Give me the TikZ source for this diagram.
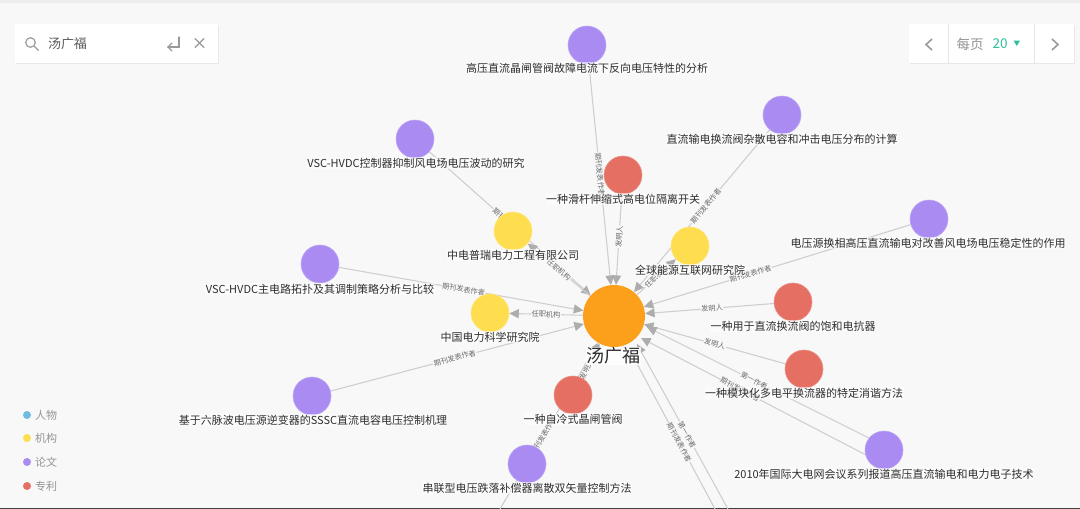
\documentclass[tikz,border=0pt]{standalone}
\usepackage{fontspec}
\setmainfont{Noto Sans CJK SC}
\usetikzlibrary{arrows.meta,calc}
\pgfdeclarelayer{bgl}
\pgfdeclarelayer{edgel}
\pgfsetlayers{bgl,edgel,main}
\definecolor{cbg}{HTML}{F8F8F8}
\definecolor{cpur}{HTML}{A98BF2}
\definecolor{cred}{HTML}{E46F62}
\definecolor{cyel}{HTML}{FEDE4E}
\definecolor{cora}{HTML}{FCA01C}
\definecolor{cblu}{HTML}{6FBCE0}
\definecolor{cedge}{HTML}{CFCFCF}
\definecolor{ctip}{HTML}{ADADAD}
\definecolor{ctxt}{HTML}{2E2E2E}
\definecolor{cgrn}{HTML}{2DBE9B}
\definecolor{cicon}{HTML}{9A9A9A}
\tikzset{
  x=1pt,y=-1pt,
  vert/.style={circle,inner sep=0pt,minimum size=38pt},
  paper/.style={vert,fill=cpur,draw=cpur!75!white,line width=.6pt},
  patent/.style={vert,fill=cred,draw=cred!75!white,line width=.6pt},
  org/.style={vert,fill=cyel,draw=cyel!75!white,line width=.6pt},
  hub/.style={circle,inner sep=0pt,minimum size=62pt,fill=cora},
  lab/.style={font=\fontsize{11}{13}\selectfont,text=ctxt,inner sep=.5pt,fill=white,fill opacity=.55,text opacity=1},
  link/.style={draw=cedge,line width=1.1pt,-{Triangle[length=9.5pt,width=9pt,color=ctip]}},
  elab/.style={font=\fontsize{7.2}{8}\selectfont,text=black!58,fill=cbg,inner sep=.6pt,sloped},
  panel/.style={fill=white},
  pshadow/.style={fill=black!9},
  icon/.style={draw=cicon,line width=1.2pt},
  leg/.style={circle,inner sep=0pt,minimum size=8pt},
  legt/.style={font=\fontsize{11}{13}\selectfont,text=black!42,anchor=west,inner sep=0pt}
}
\begin{document}
\begin{tikzpicture}
\useasboundingbox (0,0) rectangle (1080,509);
\begin{pgfonlayer}{bgl}
  \fill[cbg] (0,0) rectangle (1080,509);
  \fill[black!7] (0,0) rectangle (1080,3);
  \fill[black!75] (0,508) rectangle (1080,509);
  \fill[pshadow] (16,26) rectangle (219,64);
  \fill[pshadow] (910,26) rectangle (1075,64);
\end{pgfonlayer}
% vertices
\node[hub] (c) at (614,316) {};
\node[paper] (p1) at (587,45) {};
\node[paper] (p2) at (782,115) {};
\node[paper] (p3) at (415,139) {};
\node[paper] (p4) at (929,219) {};
\node[paper] (p5) at (320,264) {};
\node[paper] (p6) at (312,396) {};
\node[paper] (p7) at (527,464) {};
\node[paper] (p8) at (884,450) {};
\node[patent] (r1) at (623,175) {};
\node[patent] (r2) at (793,302) {};
\node[patent] (r3) at (804,369) {};
\node[patent] (r4) at (573,395) {};
\node[org] (o1) at (513,231) {};
\node[org] (o2) at (690,246) {};
\node[org] (o3) at (490,313) {};
% free ends
\coordinate (a1) at (500,509);
\coordinate (a2) at (715,509);
\coordinate (a3) at (728,509);
\coordinate (a4) at (637,344);
\coordinate (a5) at (628,347);
\coordinate (a6) at (875,441);
\coordinate (a7) at (866,455);
\coordinate (a8) at (647,327);
\coordinate (a9) at (641,338);
% connectors
\begin{pgfonlayer}{edgel}
  \draw[link] (p1) -- node[elab]{期刊发表作者} (c);
  \draw[link] (r1) -- node[elab,pos=.47]{发明人} (c);
  \draw[link] (p2) -- node[elab,pos=.47]{期刊发表作者} (c);
  \draw[link] (p3) -- node[elab]{期刊发表作者} (c);
  \draw[link] (p4) -- node[elab,pos=.6]{期刊发表作者} (c);
  \draw[link] (r2) -- node[elab,pos=.48]{发明人} (c);
  \draw[link] (r3) -- node[elab]{发明人} (c);
  \draw[link] (p5) -- node[elab,pos=.51]{期刊发表作者} (c);
  \draw[link] (p6) -- node[elab,pos=.49]{期刊发表作者} (c);
  \draw[link] (r4) -- node[elab,pos=.25]{发明人} (c);
  \draw[link] (a1) -- node[elab,pos=.44]{期刊发表作者} (c);
  \draw[link] (a2) -- node[elab,pos=.41]{期刊发表作者} (a5);
  \draw[link] (a3) -- node[elab,pos=.45]{第一作者} (a4);
  \draw[link] (a6) -- node[elab,pos=.53]{第一作者} (a8);
  \draw[link] (a7) -- node[elab,pos=.56]{期刊发表作者} (a9);
  \draw[link] (c) -- node[elab]{任职机构} (o1);
  \draw[link] (c) -- node[elab]{任职机构} (o2);
  \draw[link] (c) -- node[elab]{任职机构} (o3);
\end{pgfonlayer}
% labels
\node[lab] (l1) at (587,68) {高压直流晶闸管阀故障电流下反向电压特性的分析};
\node[lab] (l2) at (782,139) {直流输电换流阀杂散电容和冲击电压分布的计算};
\node[lab] (l3) at (416,163) {VSC-HVDC控制器抑制风电场电压波动的研究};
\node[lab] (l4) at (928,243) {电压源换相高压直流输电对改善风电场电压稳定性的作用};
\node[lab] (l5) at (320,289) {VSC-HVDC主电路拓扑及其调制策略分析与比较};
\node[lab] (l6) at (313,420) {基于六脉波电压源逆变器的SSSC直流电容电压控制机理};
\node[lab] (l7) at (527,488) {串联型电压跌落补偿器离散双矢量控制方法};
\node[lab] (l8) at (884,474) {2010年国际大电网会议系列报道高压直流输电和电力电子技术};
\node[lab] (l9) at (623,199) {一种滑杆伸缩式高电位隔离开关};
\node[lab] (l10) at (793,326) {一种用于直流换流阀的饱和电抗器};
\node[lab] (l11) at (804,393) {一种模块化多电平换流器的特定消谐方法};
\node[lab] (l12) at (573,419) {一种自冷式晶闸管阀};
\node[lab] (l13) at (513,255) {中电普瑞电力工程有限公司};
\node[lab] (l14) at (690,270) {全球能源互联网研究院};
\node[lab] (l15) at (490,337) {中国电力科学研究院};
\node[font=\fontsize{18}{20}\selectfont,text=ctxt,fill=white,fill opacity=.85,text opacity=1,inner sep=.5pt] (l0) at (613,356) {汤广福};
% search panel
\fill[panel] (15,24) rectangle (218,63);
\node[font=\fontsize{13}{15}\selectfont,text=black!65,inner sep=0pt] (st) at (67.5,44) {汤广福};
\draw[icon] (30.5,42.5) circle (4.8);
\draw[icon] (34,46) -- (38.5,50.5);
\draw[icon,line cap=round] (179,37) -- (179,47) -- (168,47);
\draw[icon,line cap=round] (172,43) -- (168,47) -- (172,51);
\draw[icon,line cap=round] (195,38.5) -- (204,47.5) (204,38.5) -- (195,47.5);
% paging panel
\fill[panel] (909,24) rectangle (1074,63);
\draw[black!10,line width=.8pt] (948.5,24) -- (948.5,63) (1034.5,24) -- (1034.5,63);
\draw[icon,line width=1.6pt] (932,39) -- (926,44.5) -- (932,50);
\draw[icon,line width=1.6pt] (1052,39) -- (1058,44.5) -- (1052,50);
\node[font=\fontsize{13.5}{15}\selectfont,text=black!42,inner sep=0pt] (pg) at (970,44) {每页};
\node[font=\fontsize{13.5}{15}\selectfont,text=cgrn,inner sep=0pt] (pn) at (1000,44) {20};
\fill[cgrn] (1013.5,40.5) -- (1020,40.5) -- (1016.8,46) -- cycle;
% legend
\node[leg,fill=cblu] (k1) at (27,415) {};
\node[leg,fill=cyel] (k2) at (27,438) {};
\node[leg,fill=cpur] (k3) at (27,462) {};
\node[leg,fill=cred] (k4) at (27,486) {};
\node[legt] (t1) at (35,415) {人物};
\node[legt] (t2) at (35,438) {机构};
\node[legt] (t3) at (35,462) {论文};
\node[legt] (t4) at (35,486) {专利};
\end{tikzpicture}
\end{document}
